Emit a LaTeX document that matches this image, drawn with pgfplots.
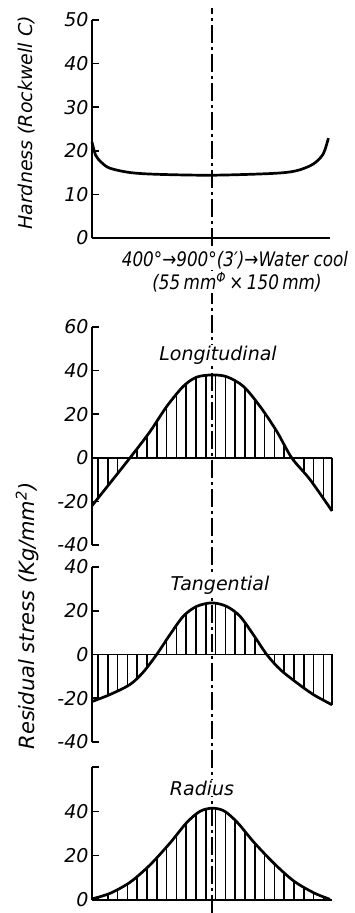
\documentclass[border=0pt]{standalone}
\usepackage{fontspec}
\setmainfont{DejaVu Sans}
\newfontfamily\condfont[FakeStretch=0.84]{DejaVu Sans}
\usepackage{pgfplots}
\pgfplotsset{compat=1.18}
\usetikzlibrary{patterns.meta}

\newcommand\ticklab{\fontsize{19}{21}\selectfont\itshape}
\newcommand\titlelab{\fontsize{19}{21}\selectfont\itshape}

\pgfplotsset{
  panel/.style={
    scale only axis, width=240pt, anchor=south west,
    xmin=-1, xmax=1, clip=false,
    axis x line=none, axis y line*=left,
    axis line style={line width=1.8pt, black},
    tick align=inside, major tick length=6.5pt,
    ytick style={line width=1.6pt, black},
    yticklabel style={font=\ticklab},
  },
  curve/.style={line width=2.7pt, black, smooth},
  base/.style={line width=1.9pt, black},
  hatch/.style={pattern={Lines[angle=90,distance=9.8pt,line width=1.5pt]}, draw=none, smooth},
}

\begin{document}
\begin{tikzpicture}[x=1pt,y=1pt]
\useasboundingbox (0,0) rectangle (355,913);

% centre line of the bar
\draw[line width=1.4pt, dash pattern=on 18pt off 4pt on 3pt off 4pt] (212,0) -- (212,905);

% hardness
\begin{axis}[panel, at={(92pt,675pt)}, height=218pt,
  ymin=0, ymax=50, ytick={0,10,20,30,40,50}, yticklabels={0,10,20,30,40,50}]
  \addplot[base] coordinates {(-1,0) (0.983,0)};
  \addplot[curve] coordinates {
    (-1,22) (-0.97,19) (-0.92,17.3) (-0.85,16) (-0.68,15) (-0.45,14.6)
    (0,14.4) (0.5,14.8) (0.7,15.4) (0.84,16.9) (0.925,19.2) (0.97,22.9)};
\end{axis}

% longitudinal
\begin{axis}[panel, at={(92pt,368pt)}, height=218pt,
  ymin=-40, ymax=60, ytick={-40,-20,0,20,40,60}, yticklabels={-40,-20,0,20,40,60}]
  \addplot[hatch] table {
    x y
    -1 -22
    -0.683 0
    -0.517 12
    -0.378 23.5
    -0.239 32.8
    -0.128 37
    0 38
    0.122 37.2
    0.261 32.8
    0.4 23.6
    0.539 12.2
    0.664 0
    0.817 -10
    1 -24.4
  } \closedcycle;
  \addplot[base] coordinates {(-1,0) (1,0)};
  \addplot[curve] table {
    x y
    -1 -22
    -0.683 0
    -0.517 12
    -0.378 23.5
    -0.239 32.8
    -0.128 37
    0 38
    0.122 37.2
    0.261 32.8
    0.4 23.6
    0.539 12.2
    0.664 0
    0.817 -10
    1 -24.4
  };
  \addplot[base] coordinates {(1,0) (1,-24.4)};
\end{axis}

% tangential
\begin{axis}[panel, at={(92pt,171pt)}, height=175pt,
  ymin=-40, ymax=40, ytick={-40,-20,0,20,40}, yticklabels={-40,-20,0,20,40}]
  \addplot[hatch] coordinates {
    (-1,-21.5) (-0.85,-18.3) (-0.683,-13.7) (-0.572,-8) (-0.461,0)
    (-0.35,9.1) (-0.239,17.5) (-0.128,22) (0,23.6) (0.122,22) (0.233,17.5)
    (0.344,9.1) (0.456,0) (0.567,-6.8) (0.706,-12.9) (0.844,-18.3) (1,-23)} \closedcycle;
  \addplot[base] coordinates {(-1,0) (1,0)};
  \addplot[curve] coordinates {
    (-1,-21.5) (-0.85,-18.3) (-0.683,-13.7) (-0.572,-8) (-0.461,0)
    (-0.35,9.1) (-0.239,17.5) (-0.128,22) (0,23.6) (0.122,22) (0.233,17.5)
    (0.344,9.1) (0.456,0) (0.567,-6.8) (0.706,-12.9) (0.844,-18.3) (1,-23)};
  \addplot[base] coordinates {(1,0) (1,-23)};
\end{axis}

% radius
\begin{axis}[panel, at={(92pt,13pt)}, height=133pt,
  ymin=0, ymax=60, ytick={0,20,40,60}, yticklabels={0,20,40,{}}]
  \addplot[hatch] coordinates {
    (-1,0.5) (-0.85,3) (-0.683,8) (-0.517,15.8) (-0.35,25.7) (-0.211,34.9)
    (-0.1,40) (0,41.4) (0.1,40.2) (0.211,35) (0.35,26) (0.517,16.5)
    (0.683,8.5) (0.85,3.2) (0.983,0.3)} \closedcycle;
  \addplot[base] coordinates {(-1,0) (1,0)};
  \addplot[curve] coordinates {
    (-1,0.5) (-0.85,3) (-0.683,8) (-0.517,15.8) (-0.35,25.7) (-0.211,34.9)
    (-0.1,40) (0,41.4) (0.1,40.2) (0.211,35) (0.35,26) (0.517,16.5)
    (0.683,8.5) (0.85,3.2) (0.983,0.3)};
\end{axis}

% texts
\node[rotate=90, font=\fontsize{19}{21}\selectfont\itshape] at (27,790) {Hardness (Rockwell C)};
\node[rotate=90, font=\fontsize{21}{23}\selectfont\itshape] at (27,297) {Residual stress (Kg/mm\textsuperscript{2})};
\node[fill=white, inner sep=1pt, font=\condfont\fontsize{20}{22}\selectfont\itshape] at (235,653) {400°→900°(3′)→Water cool};
\node[fill=white, inner sep=1pt, font=\condfont\fontsize{20}{22}\selectfont\itshape] at (237,631) {(55\,mm\textsuperscript{Φ}\,×\,150\,mm)};
\node[fill=white, inner sep=1pt, font=\titlelab] at (218,558) {Longitudinal};
\node[fill=white, inner sep=1pt, font=\titlelab] at (220,328) {Tangential};
\node[fill=white, inner sep=1pt, font=\titlelab] at (202,125) {Radius};
\end{tikzpicture}
\end{document}
